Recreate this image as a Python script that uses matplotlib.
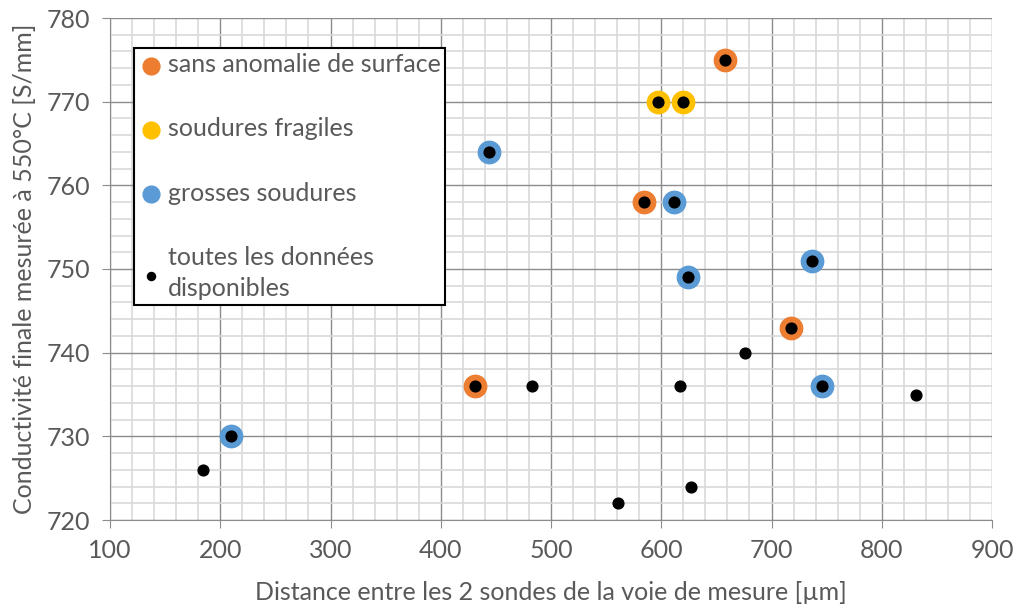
import matplotlib.pyplot as plt
from matplotlib.ticker import MultipleLocator

plt.rcParams['font.family'] = ['Lato', 'DejaVu Sans']

# points par catégorie
x_sans = [658, 584, 718, 431]
y_sans = [775, 758, 743, 736]
x_frag = [597, 620]
y_frag = [770, 770]
x_gros = [444, 612, 737, 624, 746, 210]
y_gros = [764, 758, 751, 749, 736, 730]
# toutes les données
x_all = [658, 597, 620, 444, 584, 612, 737, 624, 718, 676, 431, 483, 617,
         746, 831, 210, 184, 627, 561]
y_all = [775, 770, 770, 764, 758, 758, 751, 749, 743, 740, 736, 736, 736,
         736, 735, 730, 726, 724, 722]

gray = '#595959'

fig = plt.figure(figsize=(10.16, 6.10), dpi=100)
ax = fig.add_axes([110/1016, 1-520/610, 882/1016, 502/610])

ax.scatter(x_sans, y_sans, s=260, color='#ED7D31', zorder=3, label='sans anomalie de surface')
ax.scatter(x_frag, y_frag, s=260, color='#FFC000', zorder=3, label='soudures fragiles')
ax.scatter(x_gros, y_gros, s=260, color='#5B9BD5', zorder=3, label='grosses soudures')
ax.scatter(x_all, y_all, s=60, color='black', zorder=4, label='toutes les données\ndisponibles')

ax.set_xlim(100, 900)
ax.set_ylim(720, 780)
ax.xaxis.set_major_locator(MultipleLocator(100))
ax.xaxis.set_minor_locator(MultipleLocator(20))
ax.yaxis.set_major_locator(MultipleLocator(10))
ax.yaxis.set_minor_locator(MultipleLocator(2))
ax.grid(which='minor', color='#d9d9d9', linewidth=1.2, zorder=0)
ax.grid(which='major', color='#8c8c8c', linewidth=1.0, zorder=1)
ax.set_axisbelow(True)

for s in ['top', 'right']:
    ax.spines[s].set_visible(False)
for s in ['left', 'bottom']:
    ax.spines[s].set_color('#8c8c8c')
ax.tick_params(which='major', length=6, color='#8c8c8c', labelcolor=gray,
               labelsize=18, pad=8)
ax.tick_params(which='minor', length=0)

ax.set_xlabel('Distance entre les 2 sondes de la voie de mesure [µm]',
              fontsize=18, color=gray, labelpad=13)
ax.set_ylabel('Conductivité finale mesurée à 550°C [S/mm]',
              fontsize=18, color=gray, labelpad=8)

leg = ax.legend(loc='upper left', bbox_to_anchor=(0.027, 0.94), borderaxespad=0,
                fontsize=18, labelspacing=1.65, handletextpad=0.15,
                handlelength=1.0, fancybox=False, framealpha=1,
                edgecolor='black', borderpad=0.2, markerscale=0.75)
leg.get_frame().set_linewidth(1.5)
for t in leg.get_texts():
    t.set_color(gray)
    t.set_linespacing(1.45)

fig.savefig('out.png', dpi=100)
